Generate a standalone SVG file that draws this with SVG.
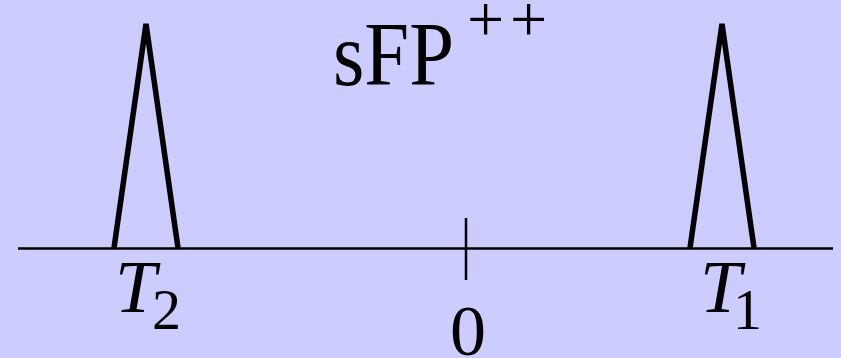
<svg xmlns="http://www.w3.org/2000/svg" width="841" height="358" viewBox="0 0 841 358">
<style>
.peak{fill:none;stroke:#000;stroke-width:5.5;stroke-linejoin:miter}
.ax{stroke:#000;stroke-width:2.5;fill:none}
text{font-family:'Liberation Serif','Times New Roman',Times,serif;fill:#000}
</style>
<rect width="841" height="358" fill="#CCCCFF"/>
<g id="axis">
<line class="ax" x1="18" y1="248.5" x2="833" y2="248.5"/>
<line class="ax" x1="466" y1="218" x2="466" y2="280"/>
</g>
<g id="peak-t2">
<polyline class="peak" points="114,248 146,24 178,248"/>
<text x="115" y="312" font-size="74" font-style="italic">T</text>
<text x="152" y="329" font-size="58">2</text>
</g>
<g id="peak-t1">
<polyline class="peak" points="690,248 722,24 754,248"/>
<text x="700" y="312" font-size="74" font-style="italic">T</text>
<text x="733" y="329" font-size="58">1</text>
</g>
<g id="zero">
<text x="450" y="355" font-size="72">0</text>
</g>
<g id="title">
<text x="333" y="85" font-size="92" textLength="121" lengthAdjust="spacingAndGlyphs">sFP</text>
<text x="467" y="41" font-size="66">+</text>
<text x="510" y="41" font-size="66">+</text>
</g>
</svg>
